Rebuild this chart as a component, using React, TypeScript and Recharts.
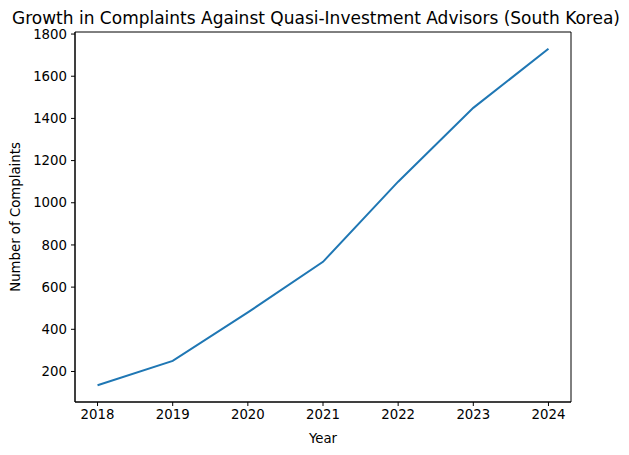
import React from "react";
import { LineChart, Line, XAxis, YAxis, Label, ReferenceArea } from "recharts";

const years = [2018, 2019, 2020, 2021, 2022, 2023, 2024];
const complaints = [135, 250, 480, 720, 1100, 1450, 1730];
const yTicks = [200, 400, 600, 800, 1000, 1200, 1400, 1600, 1800];

const data = years.map((y, i) => ({ year: y, complaints: complaints[i] }));

const minV = Math.min(...complaints);
const maxV = Math.max(...complaints);
const pad = (maxV - minV) * 0.05;
const yDomain = [minV - pad, maxV + pad];
const xPad = (years[years.length - 1] - years[0]) * 0.05;
const xDomain = [years[0] - xPad, years[years.length - 1] + xPad];

const font = "DejaVu Sans";
const tickStyle = { fontSize: 13.3, fill: "#000", fontFamily: font };

export default function App() {
  return (
    <div style={{ position: "absolute", left: 0, top: 0, width: 629, height: 455, background: "#fff" }}>
      <div
        style={{
          position: "absolute",
          left: 0,
          width: 632,
          top: 8,
          textAlign: "center",
          fontFamily: font,
          fontSize: 17,
          lineHeight: "20px",
          color: "#000",
          whiteSpace: "nowrap",
        }}
      >
        Growth in Complaints Against Quasi-Investment Advisors (South Korea)
      </div>
      <LineChart
        width={629}
        height={455}
        data={data}
        margin={{ top: 32, right: 58, bottom: 0, left: 0 }}
      >
        <XAxis
          dataKey="year"
          type="number"
          domain={xDomain}
          ticks={years}
          allowDataOverflow
          stroke="#000"
          tickSize={4}
          tickMargin={4}
          tick={tickStyle}
          height={53}
        >
          <Label value="Year" position="insideBottom" offset={12} style={{ fontSize: 13.3, fill: "#000", fontFamily: font }} />
        </XAxis>
        <YAxis
          type="number"
          domain={yDomain}
          ticks={yTicks}
          allowDataOverflow
          stroke="#000"
          tickSize={4}
          tickMargin={4}
          tick={tickStyle}
          width={75}
        >
          <Label
            value="Number of Complaints"
            angle={-90}
            position="insideLeft"
            offset={15}
            style={{ fontSize: 13.3, fill: "#000", fontFamily: font, textAnchor: "middle" }}
          />
        </YAxis>
        <ReferenceArea
          x1={xDomain[0]}
          x2={xDomain[1]}
          y1={yDomain[0]}
          y2={yDomain[1]}
          fill="none"
          fillOpacity={0}
          stroke="#000"
          strokeWidth={1}
          ifOverflow="visible"
        />
        <Line
          type="linear"
          dataKey="complaints"
          stroke="#1f77b4"
          strokeWidth={2}
          dot={false}
          isAnimationActive={false}
        />
      </LineChart>
    </div>
  );
}
